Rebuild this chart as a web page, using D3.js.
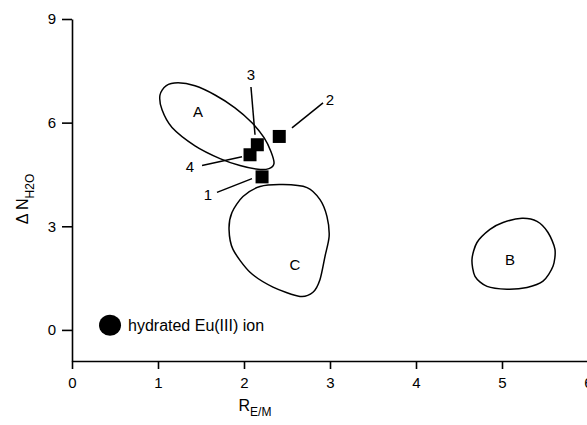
<!DOCTYPE html>
<html><head><meta charset="utf-8">
<script src="https://cdn.jsdelivr.net/npm/d3@7"></script>
<style>
body{margin:0;background:#fff;}
svg{display:block;font-family:"Liberation Sans",Arial,sans-serif;}
</style></head>
<body>
<svg id="chart" width="587" height="425"></svg>
<script>
// ---- data ----
const xTicks = [0,1,2,3,4,5,6];
const yTicks = [0,3,6,9];
const complexIds = ["1","2","3","4"];
const complexR = [2.21, 2.41, 2.155, 2.07];
const complexN = [4.43, 5.60, 5.36, 5.07];
const labelX = [1.58, 3.0, 2.08, 1.37];
const labelY = [3.92, 6.66, 7.38, 4.73];
const leaderFrom = [[1.686,3.98],[2.919,6.57],[2.081,7.03],[1.512,4.76]];
const leaderTo   = [[2.093,4.38],[2.558,5.85],[2.128,5.65],[1.977,5.01]];
const ionR = [0.442];
const ionN = [0.136];
const ionLabel = ["hydrated Eu(III) ion"];
const regionNames = ["A","B","C"];
const regionLabelX = [1.465, 5.093, 2.593];
const regionLabelY = [6.31, 2.04, 1.90];
const contourA = [[1.023,6.80],[1.093,7.066],[1.233,7.153],[1.430,7.066],[1.663,6.80],[1.895,6.43],[2.093,5.998],[2.233,5.565],[2.314,5.16],[2.349,4.82],[2.291,4.67],[2.163,4.65],[1.953,4.76],[1.721,4.96],[1.430,5.33],[1.163,5.86],[1.047,6.37]];
const contourB = [[5.012,3.11],[4.860,2.91],[4.709,2.53],[4.651,2.04],[4.686,1.55],[4.826,1.26],[5.058,1.18],[5.291,1.23],[5.477,1.41],[5.593,1.84],[5.616,2.33],[5.535,2.82],[5.407,3.14],[5.233,3.23]];
const contourC = [[2.453,4.207],[2.186,4.15],[1.988,3.86],[1.860,3.40],[1.826,2.91],[1.872,2.33],[2.070,1.67],[2.337,1.24],[2.651,0.97],[2.802,1.09],[2.884,1.46],[2.942,2.13],[2.99,2.71],[2.965,3.28],[2.884,3.77],[2.733,4.12]];
const contours = [contourA, contourB, contourC];

// ---- scales ----
const svg = d3.select("#chart");
const x = d3.scaleLinear().domain([0,6]).range([72,588]);
const y = d3.scaleLinear().domain([-0.9,9]).range([361,19]);

// axes
const gx = svg.append("g").attr("transform","translate(0,361)")
  .call(d3.axisBottom(x).tickValues(xTicks).tickFormat(d3.format("d")).tickSize(8).tickSizeOuter(0).tickPadding(8));
const gy = svg.append("g").attr("transform","translate(72,0)")
  .call(d3.axisLeft(y).tickValues(yTicks).tickFormat(d3.format("d")).tickSize(10).tickSizeOuter(0).tickPadding(6));
[gx,gy].forEach(g=>{
  g.selectAll("path,line").attr("stroke","#000").attr("stroke-width",1.6);
  g.selectAll("text").attr("fill","#000").style("font-size","15px").style("font-family","'Liberation Sans',Arial,sans-serif");
});

// contours
const line = d3.line().x(d=>x(d[0])).y(d=>y(d[1])).curve(d3.curveCardinalClosed.tension(0.2));
svg.append("g").selectAll("path").data(contours).join("path")
  .attr("d",line).attr("fill","none").attr("stroke","#000").attr("stroke-width",1.5);
svg.append("g").selectAll("text").data(regionNames).join("text")
  .attr("x",(d,i)=>x(regionLabelX[i])).attr("y",(d,i)=>y(regionLabelY[i]))
  .attr("text-anchor","middle").attr("dy","0.36em").style("font-size","15px").text(d=>d);

// leader lines
svg.append("g").selectAll("line").data(complexIds).join("line")
  .attr("x1",(d,i)=>x(leaderFrom[i][0])).attr("y1",(d,i)=>y(leaderFrom[i][1]))
  .attr("x2",(d,i)=>x(leaderTo[i][0])).attr("y2",(d,i)=>y(leaderTo[i][1]))
  .attr("stroke","#000").attr("stroke-width",1.5);
svg.append("g").selectAll("text").data(complexIds).join("text")
  .attr("x",(d,i)=>x(labelX[i])).attr("y",(d,i)=>y(labelY[i]))
  .attr("text-anchor","middle").attr("dy","0.36em").style("font-size","15px").text(d=>d);

// squares
const sq = 13;
svg.append("g").selectAll("rect").data(complexIds).join("rect")
  .attr("x",(d,i)=>x(complexR[i])-sq/2).attr("y",(d,i)=>y(complexN[i])-sq/2)
  .attr("width",sq).attr("height",sq).attr("fill","#000");

// hydrated ion
svg.append("g").selectAll("ellipse").data(ionLabel).join("ellipse")
  .attr("cx",(d,i)=>x(ionR[i])).attr("cy",(d,i)=>y(ionN[i])).attr("rx",11).attr("ry",10.5).attr("fill","#000");
svg.append("g").selectAll("text").data(ionLabel).join("text")
  .attr("x",(d,i)=>x(ionR[i])+18).attr("y",(d,i)=>y(ionN[i])).attr("dy","0.36em")
  .style("font-size","16px").text(d=>d);

// axis titles
const xt = svg.append("text").attr("x",255).attr("y",411).attr("text-anchor","middle").style("font-size","16px");
xt.append("tspan").text("R");
xt.append("tspan").attr("dy",5).style("font-size","12px").text("E/M");
const yt = svg.append("text").attr("transform","translate(28,199) rotate(-90)").attr("text-anchor","middle").style("font-size","16px");
yt.append("tspan").text("\u0394 N");
yt.append("tspan").attr("dy",6).style("font-size","12px").text("H2O");
</script>
</body></html>
